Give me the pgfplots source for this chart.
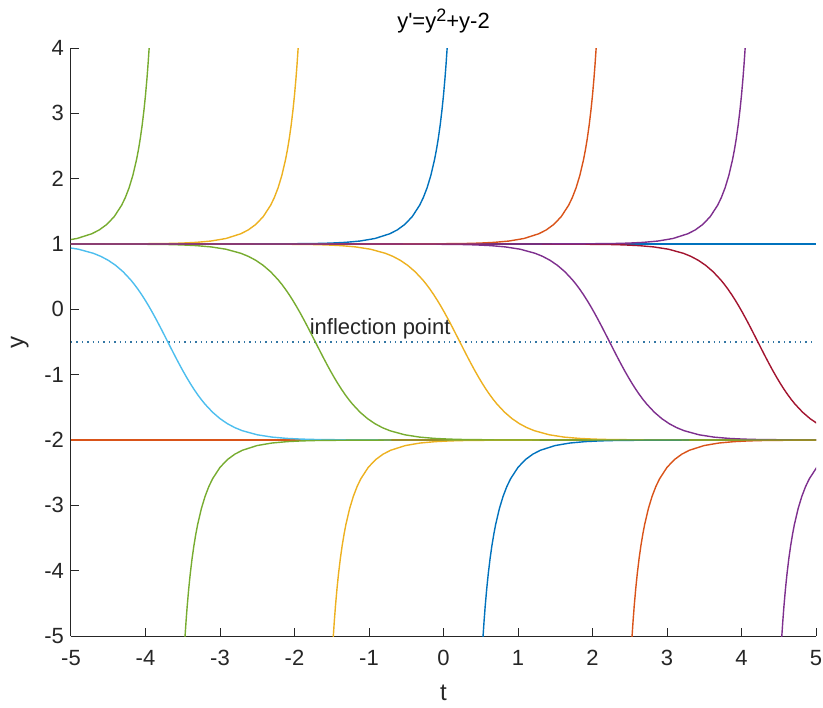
\documentclass[border=0pt]{standalone}
\usepackage{pgfplots}
\pgfplotsset{compat=1.18}
\usepackage{fontspec}
\setmainfont{Liberation Sans}
\newfontfamily\plainfont{Liberation Sans}

\definecolor{mblue}{rgb}{0,0.447,0.741}
\definecolor{morange}{rgb}{0.850,0.325,0.098}
\definecolor{myellow}{rgb}{0.929,0.694,0.125}
\definecolor{mpurple}{rgb}{0.494,0.184,0.556}
\definecolor{mgreen}{rgb}{0.466,0.674,0.188}
\definecolor{mcyan}{rgb}{0.301,0.745,0.933}
\definecolor{mdarkred}{rgb}{0.635,0.078,0.184}
\definecolor{axgray}{rgb}{0.15,0.15,0.15}

\begin{document}
\begin{tikzpicture}
\useasboundingbox (-35.5pt,-35.5pt) rectangle (376pt,318pt);
\begin{axis}[
  at={(0pt,0pt)}, anchor=south west,
  scale only axis, width=372.5pt, height=294pt,
  xmin=-5, xmax=5, ymin=-5, ymax=4,
  xtick={-5,-4,...,5}, ytick={-5,-4,...,4},
  axis lines*=left, tick align=inside,
  axis line style={axgray, line width=0.5pt},
  major tick style={axgray, line width=0.5pt},
  major tick length=4pt,
  /pgf/number format/assume math mode=true,
  every tick label/.append style={font=\fontsize{11}{13}\selectfont, text=axgray},
  xticklabel style={yshift=-3.5pt},
  title={\plainfont y'=y\raisebox{0.55ex}{\fontsize{9}{10}\selectfont 2}+y-2},
  title style={font=\fontsize{11}{13}\selectfont, yshift=-2pt},
  xlabel={t}, ylabel={y},
  label style={font=\fontsize{12}{14}\selectfont, text=axgray},
  xlabel style={yshift=-3pt},
  ylabel style={yshift=1pt},
  clip=true,
  every axis plot/.append style={line width=0.7pt, no markers},
]
% equilibria
\addplot[mblue] coordinates {(-5,1) (5,1)};
\addplot[morange] coordinates {(-5,-2) (5,-2)};
% inflection level
\addplot[color=mblue!60!gray, dotted, line width=0.6pt] coordinates {(-5,-0.5) (5,-0.5)};
\node[font=\fontsize{11}{13}\selectfont, text=black!85] at (axis cs:-0.85,-0.30) {inflection point};

% solutions between -2 and 1
\addplot[mcyan] coordinates {
(-5.70,0.9926) (-5.50,0.9865) (-5.30,0.9755) (-5.10,0.9557) (-4.90,0.9202) (-4.70,0.8577)
(-4.60,0.8111) (-4.50,0.7505) (-4.40,0.6727) (-4.30,0.5745) (-4.20,0.4528) (-4.15,0.3825)
(-4.10,0.3056) (-4.05,0.2224) (-4.00,0.1328) (-3.95,0.0375) (-3.90,-0.0630) (-3.85,-0.1680)
(-3.80,-0.2767) (-3.75,-0.3877) (-3.70,-0.5) (-3.65,-0.6123) (-3.60,-0.7233) (-3.55,-0.8320)
(-3.50,-0.9370) (-3.45,-1.0375) (-3.40,-1.1328) (-3.35,-1.2224) (-3.30,-1.3056) (-3.25,-1.3825)
(-3.20,-1.4528) (-3.10,-1.5745) (-3.00,-1.6727) (-2.90,-1.7505) (-2.80,-1.8111) (-2.70,-1.8577)
(-2.50,-1.9202) (-2.30,-1.9557) (-2.10,-1.9755) (-1.90,-1.9865) (-1.70,-1.9926) (-1.20,-1.9983)
(-0.70,-1.9996)};
\addplot[mgreen] coordinates {
(-5,1.0) (-4.72,0.9996) (-4.22,0.9983) (-3.72,0.9926) (-3.52,0.9865) (-3.32,0.9755) (-3.12,0.9557)
(-2.92,0.9202) (-2.72,0.8577) (-2.62,0.8111) (-2.52,0.7505) (-2.42,0.6727) (-2.32,0.5745)
(-2.22,0.4528) (-2.17,0.3825) (-2.12,0.3056) (-2.07,0.2224) (-2.02,0.1328) (-1.97,0.0375)
(-1.92,-0.0630) (-1.87,-0.1680) (-1.82,-0.2767) (-1.77,-0.3877) (-1.72,-0.5) (-1.67,-0.6123)
(-1.62,-0.7233) (-1.57,-0.8320) (-1.52,-0.9370) (-1.47,-1.0375) (-1.42,-1.1328) (-1.37,-1.2224)
(-1.32,-1.3056) (-1.27,-1.3825) (-1.22,-1.4528) (-1.12,-1.5745) (-1.02,-1.6727) (-0.92,-1.7505)
(-0.82,-1.8111) (-0.72,-1.8577) (-0.52,-1.9202) (-0.32,-1.9557) (-0.12,-1.9755) (0.08,-1.9865)
(0.28,-1.9926) (0.78,-1.9983) (1.28,-1.9996) (5,-2.0)};
\addplot[myellow] coordinates {
(-5,1.0) (-2.78,0.9996) (-2.28,0.9983) (-1.78,0.9926) (-1.58,0.9865) (-1.38,0.9755) (-1.18,0.9557)
(-0.98,0.9202) (-0.78,0.8577) (-0.68,0.8111) (-0.58,0.7505) (-0.48,0.6727) (-0.38,0.5745)
(-0.28,0.4528) (-0.23,0.3825) (-0.18,0.3056) (-0.13,0.2224) (-0.08,0.1328) (-0.03,0.0375)
(0.02,-0.0630) (0.07,-0.1680) (0.12,-0.2767) (0.17,-0.3877) (0.22,-0.5) (0.27,-0.6123)
(0.32,-0.7233) (0.37,-0.8320) (0.42,-0.9370) (0.47,-1.0375) (0.52,-1.1328) (0.57,-1.2224)
(0.62,-1.3056) (0.67,-1.3825) (0.72,-1.4528) (0.82,-1.5745) (0.92,-1.6727) (1.02,-1.7505)
(1.12,-1.8111) (1.22,-1.8577) (1.42,-1.9202) (1.62,-1.9557) (1.82,-1.9755) (2.02,-1.9865)
(2.22,-1.9926) (2.72,-1.9983) (3.22,-1.9996)};
\addplot[mpurple] coordinates {
(-5,1.0) (-0.77,0.9996) (-0.27,0.9983) (0.23,0.9926) (0.43,0.9865) (0.63,0.9755) (0.83,0.9557)
(1.03,0.9202) (1.23,0.8577) (1.33,0.8111) (1.43,0.7505) (1.53,0.6727) (1.63,0.5745)
(1.73,0.4528) (1.78,0.3825) (1.83,0.3056) (1.88,0.2224) (1.93,0.1328) (1.98,0.0375)
(2.03,-0.0630) (2.08,-0.1680) (2.13,-0.2767) (2.18,-0.3877) (2.23,-0.5) (2.28,-0.6123)
(2.33,-0.7233) (2.38,-0.8320) (2.43,-0.9370) (2.48,-1.0375) (2.53,-1.1328) (2.58,-1.2224)
(2.63,-1.3056) (2.68,-1.3825) (2.73,-1.4528) (2.83,-1.5745) (2.93,-1.6727) (3.03,-1.7505)
(3.13,-1.8111) (3.23,-1.8577) (3.43,-1.9202) (3.63,-1.9557) (3.83,-1.9755) (4.03,-1.9865)
(4.23,-1.9926) (4.73,-1.9983) (5.23,-1.9996)};
\addplot[mdarkred] coordinates {
(-5,1.0) (1.22,0.9996) (1.72,0.9983) (2.22,0.9926) (2.42,0.9865) (2.62,0.9755) (2.82,0.9557)
(3.02,0.9202) (3.22,0.8577) (3.32,0.8111) (3.42,0.7505) (3.52,0.6727) (3.62,0.5745)
(3.72,0.4528) (3.77,0.3825) (3.82,0.3056) (3.87,0.2224) (3.92,0.1328) (3.97,0.0375)
(4.02,-0.0630) (4.07,-0.1680) (4.12,-0.2767) (4.17,-0.3877) (4.22,-0.5) (4.27,-0.6123)
(4.32,-0.7233) (4.37,-0.8320) (4.42,-0.9370) (4.47,-1.0375) (4.52,-1.1328) (4.57,-1.2224)
(4.62,-1.3056) (4.67,-1.3825) (4.72,-1.4528) (4.82,-1.5745) (4.92,-1.6727) (5.02,-1.7505)
(5.12,-1.8111) (5.22,-1.8577)};

% solutions below -2
\addplot[myellow] coordinates {
(-1.49,-5.2099) (-1.479,-5.0) (-1.465,-4.7637) (-1.45,-4.5391) (-1.43,-4.2789) (-1.41,-4.0556)
(-1.385,-3.8170) (-1.36,-3.6147) (-1.335,-3.4425) (-1.31,-3.2931) (-1.26,-3.0497) (-1.21,-2.8615)
(-1.16,-2.7129) (-1.11,-2.5941) (-1.01,-2.4186) (-0.91,-2.2993) (-0.81,-2.2161) (-0.71,-2.1572)
(-0.51,-2.0843) (-0.31,-2.0457) (-0.11,-2.0249) (0.09,-2.0136) (0.29,-2.0075) (0.79,-2.0017)
(1.29,-2.0004)};
\addplot[mblue] coordinates {
(0.52,-5.2099) (0.531,-5.0) (0.545,-4.7637) (0.56,-4.5391) (0.58,-4.2789) (0.60,-4.0556)
(0.625,-3.8170) (0.65,-3.6147) (0.675,-3.4425) (0.70,-3.2931) (0.75,-3.0497) (0.80,-2.8615)
(0.85,-2.7129) (0.90,-2.5941) (1.00,-2.4186) (1.10,-2.2993) (1.20,-2.2161) (1.30,-2.1572)
(1.50,-2.0843) (1.70,-2.0457) (1.90,-2.0249) (2.10,-2.0136) (2.30,-2.0075) (2.80,-2.0017)
(3.30,-2.0004)};
\addplot[morange] coordinates {
(2.52,-5.2099) (2.531,-5.0) (2.545,-4.7637) (2.56,-4.5391) (2.58,-4.2789) (2.60,-4.0556)
(2.625,-3.8170) (2.65,-3.6147) (2.675,-3.4425) (2.70,-3.2931) (2.75,-3.0497) (2.80,-2.8615)
(2.85,-2.7129) (2.90,-2.5941) (3.00,-2.4186) (3.10,-2.2993) (3.20,-2.2161) (3.30,-2.1572)
(3.50,-2.0843) (3.70,-2.0457) (3.90,-2.0249) (4.10,-2.0136) (4.30,-2.0075) (4.80,-2.0017)
(5.30,-2.0004)};
\addplot[mpurple] coordinates {
(4.53,-5.2099) (4.541,-5.0) (4.555,-4.7637) (4.57,-4.5391) (4.59,-4.2789) (4.61,-4.0556)
(4.635,-3.8170) (4.66,-3.6147) (4.685,-3.4425) (4.71,-3.2931) (4.76,-3.0497) (4.81,-2.8615)
(4.86,-2.7129) (4.91,-2.5941) (5.01,-2.4186) (5.11,-2.2993)};
\addplot[mgreen] coordinates {
(-3.48,-5.2099) (-3.469,-5.0) (-3.455,-4.7637) (-3.44,-4.5391) (-3.42,-4.2789) (-3.40,-4.0556)
(-3.375,-3.8170) (-3.35,-3.6147) (-3.325,-3.4425) (-3.30,-3.2931) (-3.25,-3.0497) (-3.20,-2.8615)
(-3.15,-2.7129) (-3.10,-2.5941) (-3.00,-2.4186) (-2.90,-2.2993) (-2.80,-2.2161) (-2.70,-2.1572)
(-2.50,-2.0843) (-2.30,-2.0457) (-2.10,-2.0249) (-1.90,-2.0136) (-1.70,-2.0075) (-1.20,-2.0017)
(-0.70,-2.0004) (5,-2.0)};

% solutions above 1
\addplot[mgreen] coordinates {
(-5.72,1.0075) (-5.52,1.0136) (-5.32,1.0249) (-5.12,1.0457) (-4.92,1.0843) (-4.72,1.1572)
(-4.62,1.2161) (-4.52,1.2993) (-4.42,1.4186) (-4.32,1.5941) (-4.27,1.7129) (-4.22,1.8615)
(-4.17,2.0497) (-4.12,2.2931) (-4.095,2.4425) (-4.07,2.6147) (-4.045,2.8170) (-4.02,3.0556)
(-4.00,3.2789) (-3.98,3.5391) (-3.965,3.7637) (-3.951,4.0) (-3.94,4.2099)};
\addplot[myellow] coordinates {
(-5,1.0) (-4.72,1.0004) (-4.22,1.0017) (-3.72,1.0075) (-3.52,1.0136) (-3.32,1.0249) (-3.12,1.0457)
(-2.92,1.0843) (-2.72,1.1572) (-2.62,1.2161) (-2.52,1.2993) (-2.42,1.4186) (-2.32,1.5941)
(-2.27,1.7129) (-2.22,1.8615) (-2.17,2.0497) (-2.12,2.2931) (-2.095,2.4425) (-2.07,2.6147)
(-2.045,2.8170) (-2.02,3.0556) (-2.00,3.2789) (-1.98,3.5391) (-1.965,3.7637) (-1.951,4.0)
(-1.94,4.2099)};
\addplot[mblue] coordinates {
(-5,1.0) (-2.72,1.0004) (-2.22,1.0017) (-1.72,1.0075) (-1.52,1.0136) (-1.32,1.0249) (-1.12,1.0457)
(-0.92,1.0843) (-0.72,1.1572) (-0.62,1.2161) (-0.52,1.2993) (-0.42,1.4186) (-0.32,1.5941)
(-0.27,1.7129) (-0.22,1.8615) (-0.17,2.0497) (-0.12,2.2931) (-0.095,2.4425) (-0.07,2.6147)
(-0.045,2.8170) (-0.02,3.0556) (0.00,3.2789) (0.02,3.5391) (0.035,3.7637) (0.049,4.0)
(0.06,4.2099)};
\addplot[morange] coordinates {
(-5,1.0) (-0.72,1.0004) (-0.22,1.0017) (0.28,1.0075) (0.48,1.0136) (0.68,1.0249) (0.88,1.0457)
(1.08,1.0843) (1.28,1.1572) (1.38,1.2161) (1.48,1.2993) (1.58,1.4186) (1.68,1.5941)
(1.73,1.7129) (1.78,1.8615) (1.83,2.0497) (1.88,2.2931) (1.905,2.4425) (1.93,2.6147)
(1.955,2.8170) (1.98,3.0556) (2.00,3.2789) (2.02,3.5391) (2.035,3.7637) (2.049,4.0)
(2.06,4.2099)};
\addplot[mpurple] coordinates {
(-5,1.0) (1.28,1.0004) (1.78,1.0017) (2.28,1.0075) (2.48,1.0136) (2.68,1.0249) (2.88,1.0457)
(3.08,1.0843) (3.28,1.1572) (3.38,1.2161) (3.48,1.2993) (3.58,1.4186) (3.68,1.5941)
(3.73,1.7129) (3.78,1.8615) (3.83,2.0497) (3.88,2.2931) (3.905,2.4425) (3.93,2.6147)
(3.955,2.8170) (3.98,3.0556) (4.00,3.2789) (4.02,3.5391) (4.035,3.7637) (4.049,4.0)
(4.06,4.2099)};
\end{axis}
\end{tikzpicture}
\end{document}
